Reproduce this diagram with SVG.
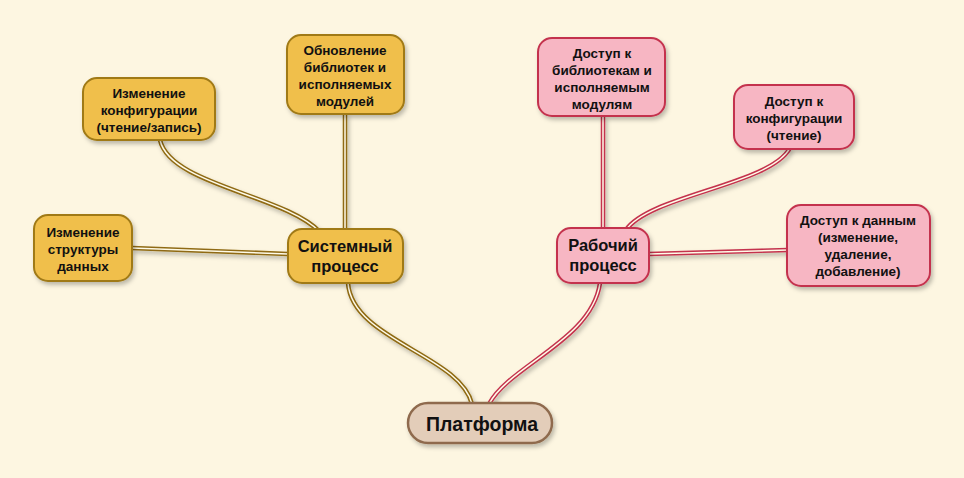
<svg xmlns="http://www.w3.org/2000/svg" width="964" height="478" viewBox="0 0 964 478">
<defs>
<filter id="sh" x="-20%" y="-20%" width="140%" height="150%">
<feDropShadow dx="2" dy="3" stdDeviation="2" flood-color="#000" flood-opacity="0.25"/>
</filter>
<style>
.t{font-family:"Liberation Sans",Arial,sans-serif;font-weight:bold;fill:#111;text-anchor:middle}
.s{font-size:13.5px}
.m{font-size:16.5px}
.y{fill:#f0bf4c;stroke:#a07a18;stroke-width:2}
.p{fill:#f7b6c3;stroke:#c4334e;stroke-width:2}
.b{fill:#e3cdb9;stroke:#8f6b4e;stroke-width:2.5}
.yo{fill:none;stroke:#8f6a12;stroke-width:4.5}
.po{fill:none;stroke:#c4334e;stroke-width:4.5}
.in{fill:none;stroke:#fffbe8;stroke-width:1.5}
</style>
</defs>
<rect width="964" height="478" fill="#fdf6e1"/>
<g id="connectors">
<g filter="url(#sh)">
<path class="yo" d="M348 283 C352 340 460 355 472 404"/>
<path class="yo" d="M320 232 C285 195 170 185 160 140"/>
<path class="yo" d="M345 114 L345 229"/>
<path class="yo" d="M288 254 L132 248"/>
<path class="po" d="M489 404 C510 365 592 340 600 283"/>
<path class="po" d="M603 116 L603 228"/>
<path class="po" d="M626 230 C650 195 770 185 790 148"/>
<path class="po" d="M649 254 L788 250"/>
</g>
<path class="in" d="M348 283 C352 340 460 355 472 404"/>
<path class="in" d="M320 232 C285 195 170 185 160 140"/>
<path class="in" d="M345 114 L345 229"/>
<path class="in" d="M288 254 L132 248"/>
<path class="in" d="M489 404 C510 365 592 340 600 283"/>
<path class="in" d="M603 116 L603 228"/>
<path class="in" d="M626 230 C650 195 770 185 790 148"/>
<path class="in" d="M649 254 L788 250"/>
</g>
<g id="platform">
<rect class="b" x="408" y="403" width="144" height="40" rx="20" filter="url(#sh)"/>
<text class="t" x="482" y="430.500" font-size="19.5">Платформа</text>
</g>
<g id="system">
<rect class="y" x="288" y="229" width="115" height="54" rx="14" filter="url(#sh)"/>
<text class="t m" x="345" y="252">Системный</text>
<text class="t m" x="345" y="272">процесс</text>
</g>
<g id="work">
<rect class="p" x="557" y="228" width="92" height="55" rx="14" filter="url(#sh)"/>
<text class="t m" x="603" y="251">Рабочий</text>
<text class="t m" x="603" y="271">процесс</text>
</g>
<g id="config-rw">
<rect class="y" x="83" y="78" width="132" height="62" rx="14" filter="url(#sh)"/>
<text class="t s" x="149" y="98">Изменение</text>
<text class="t s" x="149" y="115">конфигурации</text>
<text class="t s" x="149" y="132">(чтение/запись)</text>
</g>
<g id="update-libs">
<rect class="y" x="287" y="35" width="117" height="79" rx="14" filter="url(#sh)"/>
<text class="t s" x="345" y="55">Обновление</text>
<text class="t s" x="345" y="72">библиотек и</text>
<text class="t s" x="345" y="89">исполняемых</text>
<text class="t s" x="345" y="106">модулей</text>
</g>
<g id="data-struct">
<rect class="y" x="34" y="215" width="98" height="66" rx="14" filter="url(#sh)"/>
<text class="t s" x="83" y="237">Изменение</text>
<text class="t s" x="83" y="254">структуры</text>
<text class="t s" x="83" y="271">данных</text>
</g>
<g id="access-libs">
<rect class="p" x="538" y="38" width="127" height="78" rx="14" filter="url(#sh)"/>
<text class="t s" x="602" y="58">Доступ к</text>
<text class="t s" x="602" y="75">библиотекам и</text>
<text class="t s" x="602" y="92">исполняемым</text>
<text class="t s" x="602" y="109">модулям</text>
</g>
<g id="access-config">
<rect class="p" x="734" y="85" width="120" height="64" rx="14" filter="url(#sh)"/>
<text class="t s" x="794" y="106">Доступ к</text>
<text class="t s" x="794" y="123">конфигурации</text>
<text class="t s" x="794" y="140">(чтение)</text>
</g>
<g id="access-data">
<rect class="p" x="787" y="205" width="143" height="81" rx="14" filter="url(#sh)"/>
<text class="t s" x="858" y="225">Доступ к данным</text>
<text class="t s" x="858" y="242">(изменение,</text>
<text class="t s" x="858" y="259">удаление,</text>
<text class="t s" x="858" y="276">добавление)</text>
</g>
</svg>
